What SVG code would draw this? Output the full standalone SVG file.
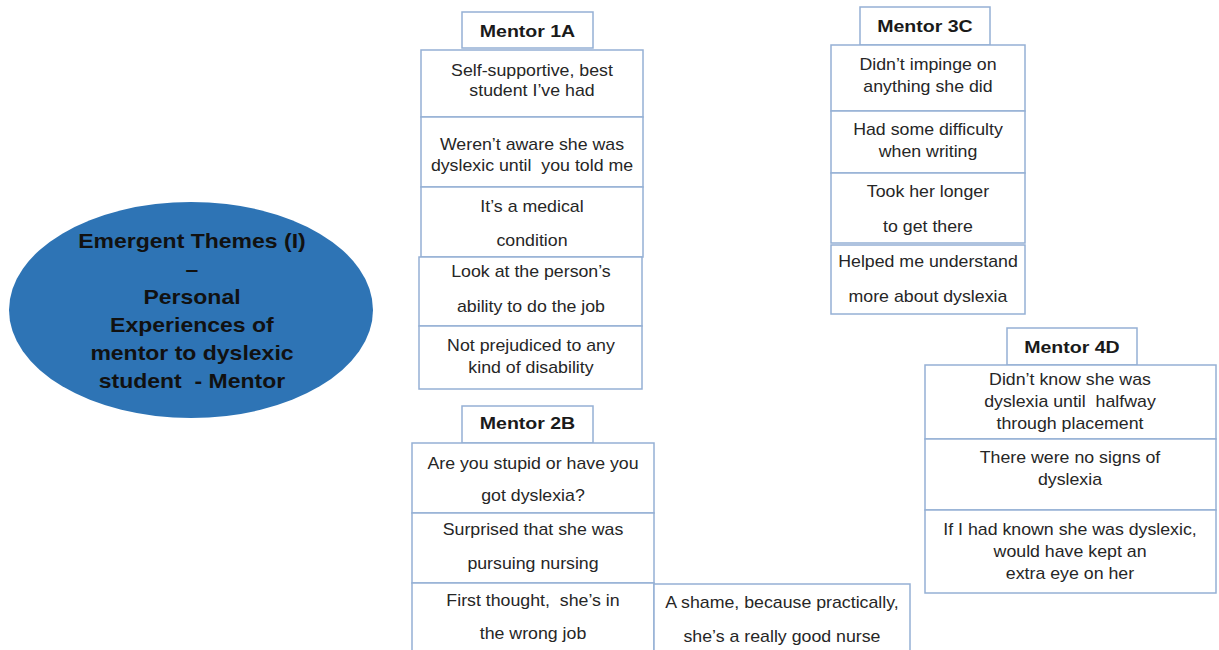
<svg xmlns="http://www.w3.org/2000/svg" width="1219" height="650" viewBox="0 0 1219 650">
<style>
.bx{fill:#ffffff;stroke:#95b0d5;stroke-width:1.5}
text{font-family:"Liberation Sans",Arial,sans-serif;text-anchor:middle;white-space:pre;transform-box:fill-box;transform-origin:center}
.b{font-size:16px;fill:#262626;transform:scaleX(1.11)}
.h{font-size:17px;font-weight:bold;fill:#1a1a1a;transform:scaleX(1.15)}
.e{font-size:19.5px;font-weight:bold;fill:#111111;transform:scaleX(1.18)}
</style>
<rect width="1219" height="650" fill="#ffffff"/>
<g id="connectors"/>
<g id="theme">
<ellipse cx="191" cy="310" rx="182" ry="108" fill="#2e74b5"/>
<text class="e" x="192" y="248">Emergent Themes (I)</text>
<text class="e" x="192" y="276">–</text>
<text class="e" x="192" y="304">Personal</text>
<text class="e" x="192" y="332">Experiences of</text>
<text class="e" x="192" y="360">mentor to dyslexic</text>
<text class="e" x="192" y="388">student  - Mentor</text>
</g>
<g id="mentor1A">
<rect class="bx" x="462" y="12" width="131" height="36"/>
<text class="h" x="527.5" y="37">Mentor 1A</text>
<rect class="bx" x="421" y="50" width="222" height="67"/>
<text class="b" x="532" y="76">Self-supportive, best</text>
<text class="b" x="532" y="96">student I’ve had</text>
<rect class="bx" x="421" y="117" width="222" height="70"/>
<text class="b" x="532" y="150">Weren’t aware she was</text>
<text class="b" x="532" y="171">dyslexic until  you told me</text>
<rect class="bx" x="421" y="187" width="222" height="70"/>
<text class="b" x="532" y="212">It’s a medical</text>
<text class="b" x="532" y="246">condition</text>
<rect class="bx" x="419" y="257" width="223" height="69"/>
<text class="b" x="531" y="277">Look at the person’s</text>
<text class="b" x="531" y="312">ability to do the job</text>
<rect class="bx" x="419" y="326" width="223" height="63"/>
<text class="b" x="531" y="351">Not prejudiced to any</text>
<text class="b" x="531" y="373">kind of disability</text>
</g>
<g id="mentor3C">
<rect class="bx" x="860" y="7" width="130" height="38"/>
<text class="h" x="925" y="32">Mentor 3C</text>
<rect class="bx" x="831" y="45" width="194" height="66"/>
<text class="b" x="928" y="70">Didn’t impinge on</text>
<text class="b" x="928" y="92">anything she did</text>
<rect class="bx" x="831" y="111" width="194" height="62"/>
<text class="b" x="928" y="135">Had some difficulty</text>
<text class="b" x="928" y="157">when writing</text>
<rect class="bx" x="831" y="173" width="194" height="70"/>
<text class="b" x="928" y="197">Took her longer</text>
<text class="b" x="928" y="232">to get there</text>
<rect class="bx" x="831" y="245" width="194" height="69"/>
<text class="b" x="928" y="267">Helped me understand</text>
<text class="b" x="928" y="302">more about dyslexia</text>
</g>
<g id="mentor4D">
<rect class="bx" x="1007" y="328" width="130" height="37"/>
<text class="h" x="1072" y="353">Mentor 4D</text>
<rect class="bx" x="925" y="365" width="291" height="74"/>
<text class="b" x="1070" y="385">Didn’t know she was</text>
<text class="b" x="1070" y="407">dyslexia until  halfway</text>
<text class="b" x="1070" y="429">through placement</text>
<rect class="bx" x="925" y="439" width="291" height="71"/>
<text class="b" x="1070" y="463">There were no signs of</text>
<text class="b" x="1070" y="485">dyslexia</text>
<rect class="bx" x="925" y="510" width="291" height="83"/>
<text class="b" x="1070" y="535">If I had known she was dyslexic,</text>
<text class="b" x="1070" y="557">would have kept an</text>
<text class="b" x="1070" y="579">extra eye on her</text>
</g>
<g id="mentor2B">
<rect class="bx" x="462" y="406" width="131" height="37"/>
<text class="h" x="527.5" y="429">Mentor 2B</text>
<rect class="bx" x="412" y="443" width="242" height="70"/>
<text class="b" x="533" y="469">Are you stupid or have you</text>
<text class="b" x="533" y="501">got dyslexia?</text>
<rect class="bx" x="412" y="513" width="242" height="70"/>
<text class="b" x="533" y="535">Surprised that she was</text>
<text class="b" x="533" y="569">pursuing nursing</text>
<rect class="bx" x="412" y="583" width="242" height="80"/>
<text class="b" x="533" y="606">First thought,  she’s in</text>
<text class="b" x="533" y="639">the wrong job</text>
<rect class="bx" x="654" y="584" width="256" height="80"/>
<text class="b" x="782" y="608">A shame, because practically,</text>
<text class="b" x="782" y="642">she’s a really good nurse</text>
</g>
</svg>
